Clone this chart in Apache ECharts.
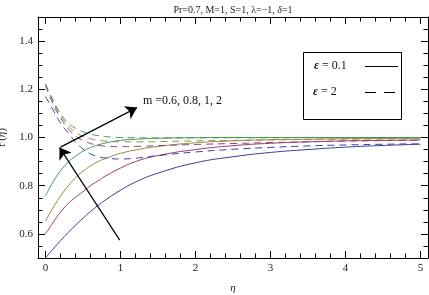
<!DOCTYPE html>
<html><head><meta charset="utf-8">
<script src="https://cdn.jsdelivr.net/npm/echarts@6/dist/echarts.min.js"></script>
<style>html,body{margin:0;padding:0;background:#fff}#c{width:429px;height:295px}</style>
</head><body><div id="c"></div>
<script>
var eta = [0, 0.1, 0.2, 0.3, 0.4, 0.5, 0.6, 0.7, 0.8, 1.0, 1.2, 1.5, 2, 2.5, 3, 3.5, 4, 4.5, 5];
// epsilon = 0.1 (solid)
var solid_m06 = [0.5, 0.537, 0.572, 0.605, 0.636, 0.665, 0.693, 0.718, 0.741, 0.781, 0.815, 0.852, 0.895, 0.92, 0.938, 0.95, 0.96, 0.967, 0.972];
var solid_m08 = [0.6, 0.647, 0.69, 0.725, 0.752, 0.775, 0.8, 0.82, 0.84, 0.873, 0.9, 0.925, 0.95, 0.966, 0.976, 0.982, 0.986, 0.988, 0.99];
var solid_m1  = [0.653, 0.708, 0.757, 0.798, 0.833, 0.86, 0.882, 0.9, 0.913, 0.934, 0.948, 0.963, 0.978, 0.986, 0.991, 0.993, 0.995, 0.996, 0.997];
var solid_m2  = [0.758, 0.815, 0.862, 0.897, 0.923, 0.943, 0.958, 0.969, 0.977, 0.988, 0.993, 0.997, 0.999, 1.0, 1.0, 1.0, 1.0, 1.0, 1.0];
// epsilon = 2 (dashed)
var dash_m06 = [1.17, 1.115, 1.06, 1.02, 0.982, 0.952, 0.932, 0.921, 0.915, 0.911, 0.914, 0.925, 0.94, 0.951, 0.959, 0.965, 0.969, 0.972, 0.974];
var dash_m08 = [1.215, 1.14, 1.082, 1.038, 1.007, 0.988, 0.975, 0.968, 0.964, 0.962, 0.963, 0.966, 0.971, 0.975, 0.979, 0.982, 0.985, 0.987, 0.988];
var dash_m1  = [1.222, 1.15, 1.093, 1.05, 1.022, 1.005, 0.995, 0.989, 0.985, 0.982, 0.982, 0.983, 0.986, 0.988, 0.99, 0.992, 0.993, 0.994, 0.995];
var dash_m2  = [1.222, 1.155, 1.1, 1.062, 1.038, 1.024, 1.014, 1.008, 1.004, 1.0, 0.999, 0.998, 0.999, 0.999, 0.999, 1.0, 1.0, 1.0, 1.0];

var xMajor = [0, 1, 2, 3, 4, 5];
var yMajor = [0.6, 0.8, 1.0, 1.2, 1.4];

var xMinor = [];
for (var i = 0; i <= 25; i++) { var v = +(i * 0.2).toFixed(1); if (v % 1 !== 0) xMinor.push(v); }
var yMinor = [];
for (var j = 10; j <= 30; j++) { var w = +(j * 0.05).toFixed(2); if (yMajor.indexOf(w) < 0) yMinor.push(w); }

var colors = ['#3d3d99', '#993d71', '#998b3d', '#3d9958'];
var FONT = 'Liberation Serif';

function pairs(ys) { return eta.map(function (x, k) { return [x, ys[k]]; }); }

function mkX(pos, major, showLabel, showLine) {
  return {
    type: 'value', position: pos, min: -0.1, max: 5.1,
    axisLine: { show: showLine, onZero: false, lineStyle: { color: '#000', width: 1 } },
    axisTick: { show: true, inside: true, length: major ? 7 : 4.5, customValues: major ? xMajor : xMinor, lineStyle: { color: '#000', width: 1 } },
    axisLabel: { show: showLabel, customValues: xMajor, color: '#222', fontFamily: FONT, fontSize: 11, margin: 5 },
    splitLine: { show: false }
  };
}
function mkY(pos, major, showLabel, showLine) {
  return {
    type: 'value', position: pos, min: 0.5, max: 1.5,
    axisLine: { show: showLine, onZero: false, lineStyle: { color: '#000', width: 1 } },
    axisTick: { show: true, inside: true, length: major ? 7 : 4.5, customValues: major ? yMajor : yMinor, lineStyle: { color: '#000', width: 1 } },
    axisLabel: { show: showLabel, customValues: yMajor, color: '#222', fontFamily: FONT, fontSize: 11, margin: 5,
      formatter: function (v) { return v.toFixed(1); } },
    splitLine: { show: false }
  };
}

var xs = [mkX('bottom', true, true, true), mkX('bottom', false, false, false), mkX('top', true, false, true), mkX('top', false, false, false)];
xs[0].name = 'η'; xs[0].nameLocation = 'middle'; xs[0].nameGap = 25;
xs[0].nameTextStyle = { fontFamily: FONT, fontStyle: 'italic', fontSize: 11, color: '#222' };
var ys = [mkY('left', true, true, true), mkY('left', false, false, false), mkY('right', true, false, true), mkY('right', false, false, false)];
ys[0].name = '{n|f\u2032(}{i|η}{n|)}'; ys[0].nameLocation = 'middle'; ys[0].nameGap = 30; ys[0].nameRotate = 90;
ys[0].nameTextStyle = { fontFamily: FONT, fontSize: 11, color: '#222',
  rich: { n: { fontFamily: FONT, fontSize: 11, color: '#222' }, i: { fontFamily: FONT, fontSize: 11, fontStyle: 'italic', color: '#222' } } };

var solids = [solid_m06, solid_m08, solid_m1, solid_m2];
var dashes = [dash_m06, dash_m08, dash_m1, dash_m2];
var series = [];
solids.forEach(function (d, k) {
  series.push({ type: 'line', data: pairs(d), smooth: true, showSymbol: false, silent: true,
    lineStyle: { color: colors[k], width: 1 }, z: 3 });
});
dashes.forEach(function (d, k) {
  series.push({ type: 'line', data: pairs(d), smooth: true, showSymbol: false, silent: true,
    lineStyle: { color: colors[k], width: 1, type: [7, 5] }, z: 3 });
});
series.push({ type: 'line', data: [], z: 6, markLine: {
  silent: true, symbol: ['none', 'arrow'], symbolSize: 11,
  label: { show: false }, itemStyle: { color: '#000' }, lineStyle: { color: '#000', width: 1.2, type: 'solid' },
  data: [
    [{ coord: [0.99, 0.574], symbol: 'none' }, { coord: [0.187, 0.958], symbol: 'arrow', symbolSize: 11 }],
    [{ coord: [0.2, 0.96], symbol: 'none' }, { coord: [1.22, 1.124], symbol: 'arrow', symbolSize: 11 }]
  ] } });

var chart = echarts.init(document.getElementById('c'), null, { renderer: 'canvas' });
chart.setOption({
  animation: false,
  backgroundColor: '#fff',
  title: { text: 'Pr=0.7, M=1, S=1, λ=\u22121, {i|δ}=1', left: 228, top: 0, textAlign: 'center',
    textStyle: { fontFamily: FONT, fontSize: 10, fontWeight: 'normal', color: '#222',
      rich: { i: { fontFamily: FONT, fontSize: 10, fontStyle: 'italic', color: '#222' } } } },
  grid: { left: 38, right: 1, top: 17, bottom: 37, containLabel: false, outerBoundsMode: 'none' },
  xAxis: xs, yAxis: ys, series: series,
  graphic: [
    { type: 'text', left: 143, top: 95, style: { text: 'm =0.6, 0.8, 1, 2', fontFamily: FONT, fontSize: 12, fill: '#111' } },
    { type: 'rect', shape: { x: 303.5, y: 52.5, width: 98, height: 67 }, style: { fill: '#fff', stroke: '#000', lineWidth: 1 }, z: 10 },
    { type: 'text', x: 314, y: 66, z: 11, style: { text: '{e|ε} = 0.1', verticalAlign: 'middle', fontFamily: FONT, fontSize: 12, fill: '#111',
      rich: { e: { fontFamily: FONT, fontSize: 12, fontWeight: 'bold', fontStyle: 'italic', fill: '#111' } } } },
    { type: 'line', z: 11, shape: { x1: 365, y1: 66.5, x2: 398, y2: 66.5 }, style: { stroke: '#000', lineWidth: 1 } },
    { type: 'text', x: 313, y: 92, z: 11, style: { text: '{e|ε} = 2', verticalAlign: 'middle', fontFamily: FONT, fontSize: 12, fill: '#111',
      rich: { e: { fontFamily: FONT, fontSize: 12, fontWeight: 'bold', fontStyle: 'italic', fill: '#111' } } } },
    { type: 'line', z: 11, shape: { x1: 365, y1: 92.5, x2: 395, y2: 92.5 }, style: { stroke: '#000', lineWidth: 1, lineDash: [11, 8] } }
  ]
});
</script></body></html>
